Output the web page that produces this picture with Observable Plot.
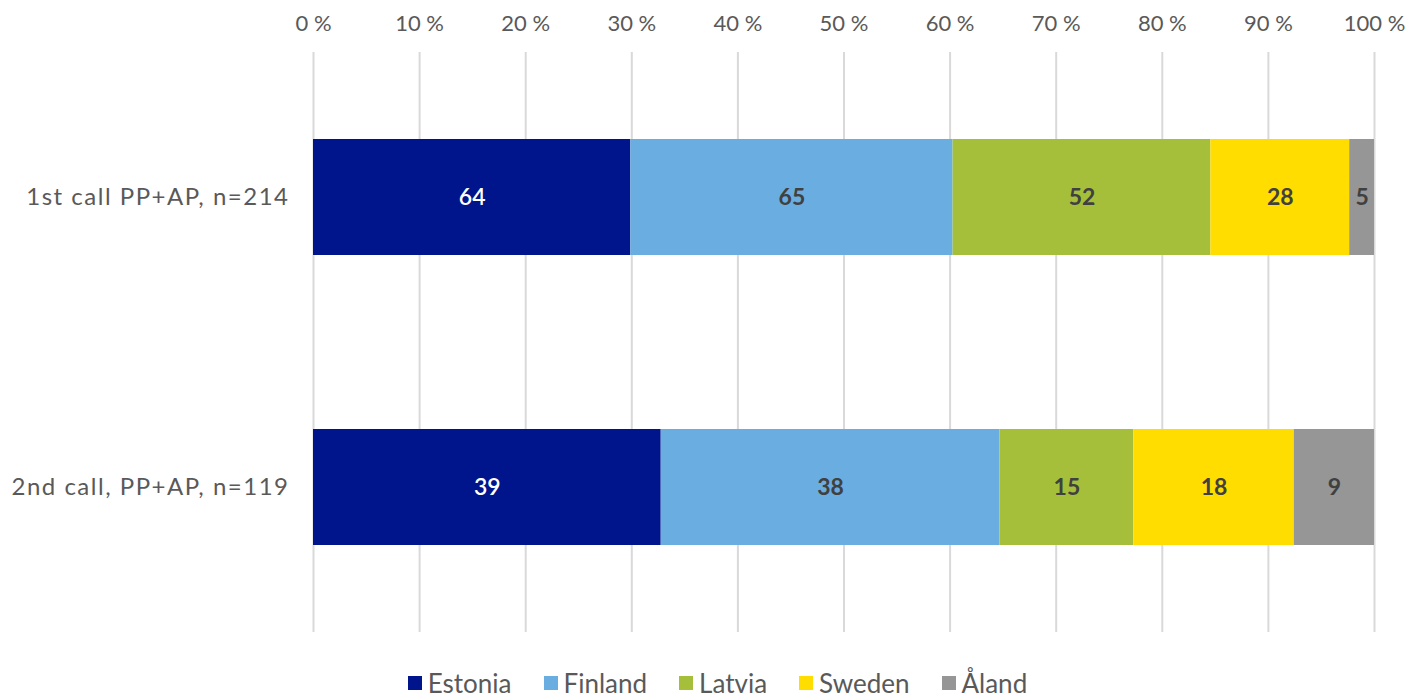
<!DOCTYPE html>
<html><head><meta charset="utf-8">
<script src="https://cdn.jsdelivr.net/npm/d3@7"></script>
<script src="https://cdn.jsdelivr.net/npm/@observablehq/plot@0.6"></script>
<style>
html,body{margin:0;padding:0;background:#fff;overflow:hidden}
#chart{position:relative;width:1409px;height:698px;font-family:Lato,"Open Sans",sans-serif}
#legend{position:absolute;left:0;top:668px;width:1409px;display:flex;justify-content:center;align-items:center;gap:32px;font-size:26px;line-height:30px;color:#595959;padding-left:26px;box-sizing:border-box}
#legend .item{display:flex;align-items:center;gap:6px}
#legend .sw{width:14px;height:14px;display:inline-block}
svg g[aria-label="y-axis tick label"] text{letter-spacing:1.5px}
</style></head>
<body><div id="chart"><div id="plot"></div><div id="legend"></div></div>
<script>
const rows = ["1st call PP+AP, n=214", "2nd call, PP+AP, n=119"];
const countries = ["Estonia", "Finland", "Latvia", "Sweden", "Åland"];
const colors = ["#00148C", "#6AADE0", "#A5BF3A", "#FFDD00", "#969696"];
const values1 = [64, 65, 52, 28, 5];
const values2 = [39, 38, 15, 18, 9];
const tickValues = [0, 10, 20, 30, 40, 50, 60, 70, 80, 90, 100];

const data = [];
countries.forEach((c, i) => {
  data.push({row: rows[0], country: c, value: values1[i]});
  data.push({row: rows[1], country: c, value: values2[i]});
});
const font = 'Lato,"Open Sans",sans-serif';

const stackOpts = {x: "value", y: "row", z: "country", offset: "normalize", order: countries};
const plot = Plot.plot({
  width: 1409,
  height: 660,
  marginLeft: 313,
  marginRight: 35,
  marginTop: 52,
  marginBottom: 28,
  style: {fontFamily: font, fontSize: "22px", color: "#595959", background: "#fff"},
  x: {domain: [0, 1], ticks: tickValues.map(d => d / 100), tickFormat: d => Math.round(d * 100) + " %", axis: null},
  y: {domain: rows, paddingInner: 0.6, paddingOuter: 0.3, axis: null},
  color: {domain: countries, range: colors},
  marks: [
    Plot.gridX(tickValues.map(d => d / 100), {stroke: "#d9d9d9", strokeOpacity: 1, strokeWidth: 2}),
    Plot.axisX(tickValues.map(d => d / 100), {anchor: "top", tickSize: 0, tickPadding: 22, label: null, tickFormat: d => Math.round(d * 100) + " %", fontSize: 22}),
    Plot.axisY({anchor: "left", tickSize: 0, tickPadding: 24, label: null, fontSize: 24}),
    Plot.barX(data, Plot.stackX({...stackOpts, fill: "country"})),
    Plot.text(data, Plot.stackX({...stackOpts, text: d => d.country === "Estonia" ? d.value : "", fill: "#ffffff", fontSize: 23, fontWeight: 600})),
    Plot.text(data, Plot.stackX({...stackOpts, text: d => d.country !== "Estonia" ? d.value : "", fill: "#404040", fontSize: 23, fontWeight: "bold"}))
  ]
});
document.getElementById("plot").appendChild(plot);

const leg = document.getElementById("legend");
countries.forEach((c, i) => {
  const it = document.createElement("div");
  it.className = "item";
  it.innerHTML = `<span class="sw" style="background:${colors[i]}"></span><span>${c}</span>`;
  leg.appendChild(it);
});
</script></body></html>
